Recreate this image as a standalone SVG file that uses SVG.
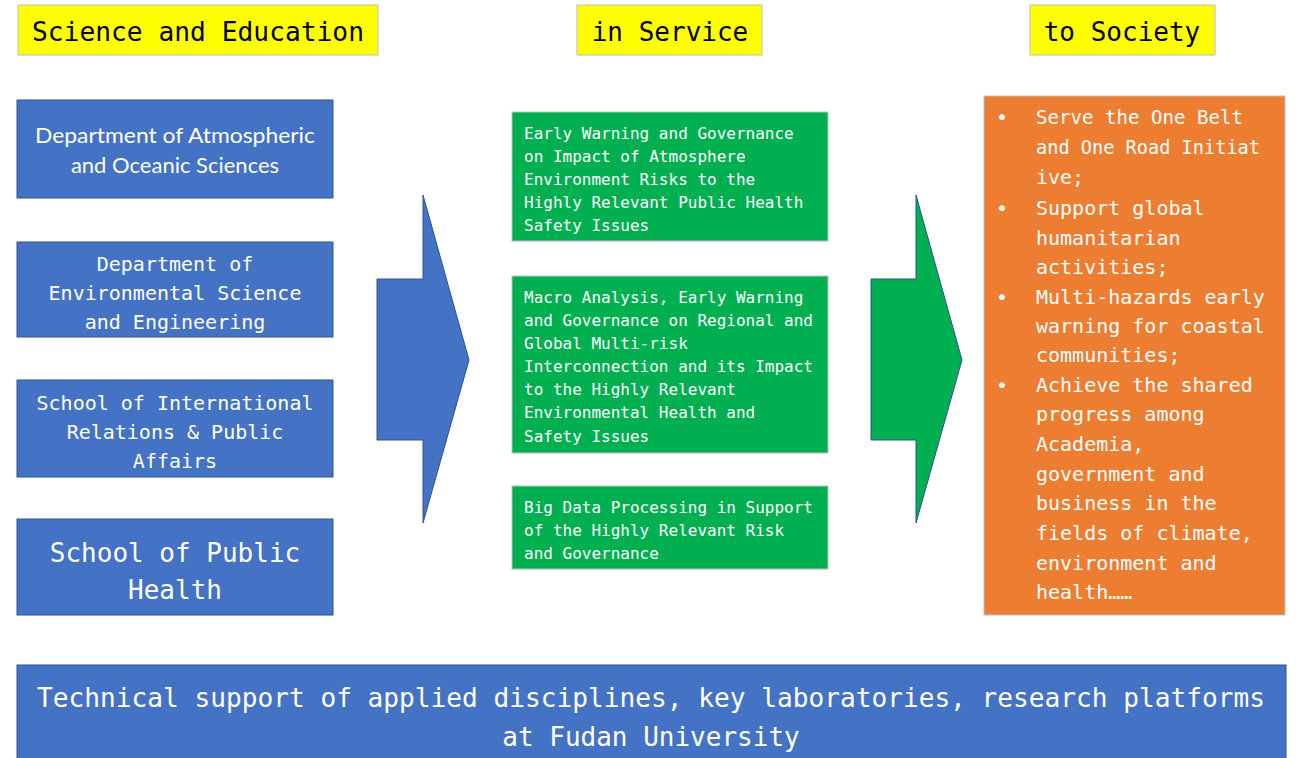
<svg xmlns="http://www.w3.org/2000/svg" width="1299" height="758" viewBox="0 0 1299 758">
<style>
.hdr{fill:#FFFF00;stroke:#BFBFBF;stroke-width:1}
.hdrt{font-family:"DejaVu Sans Mono",monospace;font-size:26px;fill:#000}
.blue{fill:#4472C4;stroke:#2F528F;stroke-width:1}
.green{fill:#00B050;stroke:#BFBFBF;stroke-width:1}
.orange{fill:#ED7D31;stroke:#BFBFBF;stroke-width:1}
.mono{font-family:"DejaVu Sans Mono",monospace;fill:#fff}
.prop{font-family:Lato,"Open Sans",sans-serif;fill:#fff}
.c{text-anchor:middle}
.g{font-size:16px}
.o{font-size:20px}
</style>
<rect width="1299" height="758" fill="#fff"/>
<g id="header-science">
<rect class="hdr" x="18" y="5" width="360" height="50"/>
<text class="hdrt c" x="198" y="41" textLength="332" lengthAdjust="spacingAndGlyphs">Science and Education</text>
</g>
<g id="header-service">
<rect class="hdr" x="577" y="5" width="185" height="50"/>
<text class="hdrt c" x="670" y="41">in Service</text>
</g>
<g id="header-society">
<rect class="hdr" x="1030" y="5" width="185" height="50"/>
<text class="hdrt c" x="1122" y="41">to Society</text>
</g>
<g id="dept-atmos">
<rect class="blue" x="17" y="100" width="316" height="98"/>
<text class="prop c" font-size="22" x="175" y="143" textLength="280" lengthAdjust="spacingAndGlyphs">Department of Atmospheric</text>
<text class="prop c" font-size="22" x="175" y="173">and Oceanic Sciences</text>
</g>
<g id="dept-env">
<rect class="blue" x="17" y="242" width="316" height="95"/>
<text class="mono c" font-size="20" x="175" y="271">Department of</text>
<text class="mono c" font-size="20" x="175" y="300">Environmental Science</text>
<text class="mono c" font-size="20" x="175" y="329">and Engineering</text>
</g>
<g id="school-intl">
<rect class="blue" x="17" y="380" width="316" height="97"/>
<text class="mono c" font-size="20" x="175" y="410">School of International</text>
<text class="mono c" font-size="20" x="175" y="439">Relations &amp; Public</text>
<text class="mono c" font-size="20" x="175" y="468">Affairs</text>
</g>
<g id="school-health">
<rect class="blue" x="17" y="519" width="316" height="96"/>
<text class="mono c" font-size="26" x="175" y="562">School of Public</text>
<text class="mono c" font-size="26" x="175" y="599">Health</text>
</g>
<g id="connectors">
<polygon points="377,279 423,279 423,195 469,360 423,523 423,440 377,440" fill="#4472C4" stroke="#2F528F" stroke-width="1"/>
<polygon points="871,279 916,279 916,195 962,360 916,523 916,440 871,440" fill="#00B050" stroke="#2F528F" stroke-width="1"/>
</g>
<g id="svc-1">
<rect class="green" x="512" y="112" width="316" height="129"/>
<text class="mono g" x="524" y="139">Early Warning and Governance</text>
<text class="mono g" x="524" y="162">on Impact of Atmosphere</text>
<text class="mono g" x="524" y="185">Environment Risks to the</text>
<text class="mono g" x="524" y="208">Highly Relevant Public Health</text>
<text class="mono g" x="524" y="231">Safety Issues</text>
</g>
<g id="svc-2">
<rect class="green" x="512" y="276" width="316" height="177"/>
<text class="mono g" x="524" y="303">Macro Analysis, Early Warning</text>
<text class="mono g" x="524" y="326">and Governance on Regional and</text>
<text class="mono g" x="524" y="349">Global Multi-risk</text>
<text class="mono g" x="524" y="372">Interconnection and its Impact</text>
<text class="mono g" x="524" y="395">to the Highly Relevant</text>
<text class="mono g" x="524" y="418">Environmental Health and</text>
<text class="mono g" x="524" y="442">Safety Issues</text>
</g>
<g id="svc-3">
<rect class="green" x="512" y="486" width="316" height="83"/>
<text class="mono g" x="524" y="513">Big Data Processing in Support</text>
<text class="mono g" x="524" y="536">of the Highly Relevant Risk</text>
<text class="mono g" x="524" y="559">and Governance</text>
</g>
<g id="society">
<rect class="orange" x="984" y="96" width="301" height="519"/>
<g class="mono o">
<text x="996" y="124">•</text>
<text x="996" y="215">•</text>
<text x="996" y="304">•</text>
<text x="996" y="392">•</text>
<text x="1036" y="124" textLength="207" lengthAdjust="spacingAndGlyphs">Serve the One Belt</text>
<text x="1036" y="154" textLength="224" lengthAdjust="spacingAndGlyphs">and One Road Initiat</text>
<text x="1036" y="184">ive;</text>
<text x="1036" y="215">Support global</text>
<text x="1036" y="245">humanitarian</text>
<text x="1036" y="274">activities;</text>
<text x="1036" y="304">Multi-hazards early</text>
<text x="1036" y="333">warning for coastal</text>
<text x="1036" y="362">communities;</text>
<text x="1036" y="392">Achieve the shared</text>
<text x="1036" y="421">progress among</text>
<text x="1036" y="451">Academia,</text>
<text x="1036" y="481">government and</text>
<text x="1036" y="510">business in the</text>
<text x="1036" y="540">fields of climate,</text>
<text x="1036" y="570">environment and</text>
<text x="1036" y="599">health……</text>
</g>
</g>
<g id="tech-support">
<rect class="blue" x="17" y="665" width="1269" height="100"/>
<text class="mono c" font-size="26" x="651" y="707" textLength="1228" lengthAdjust="spacingAndGlyphs">Technical support of applied disciplines, key laboratories, research platforms</text>
<text class="mono c" font-size="26" x="651" y="746">at Fudan University</text>
</g>
</svg>
